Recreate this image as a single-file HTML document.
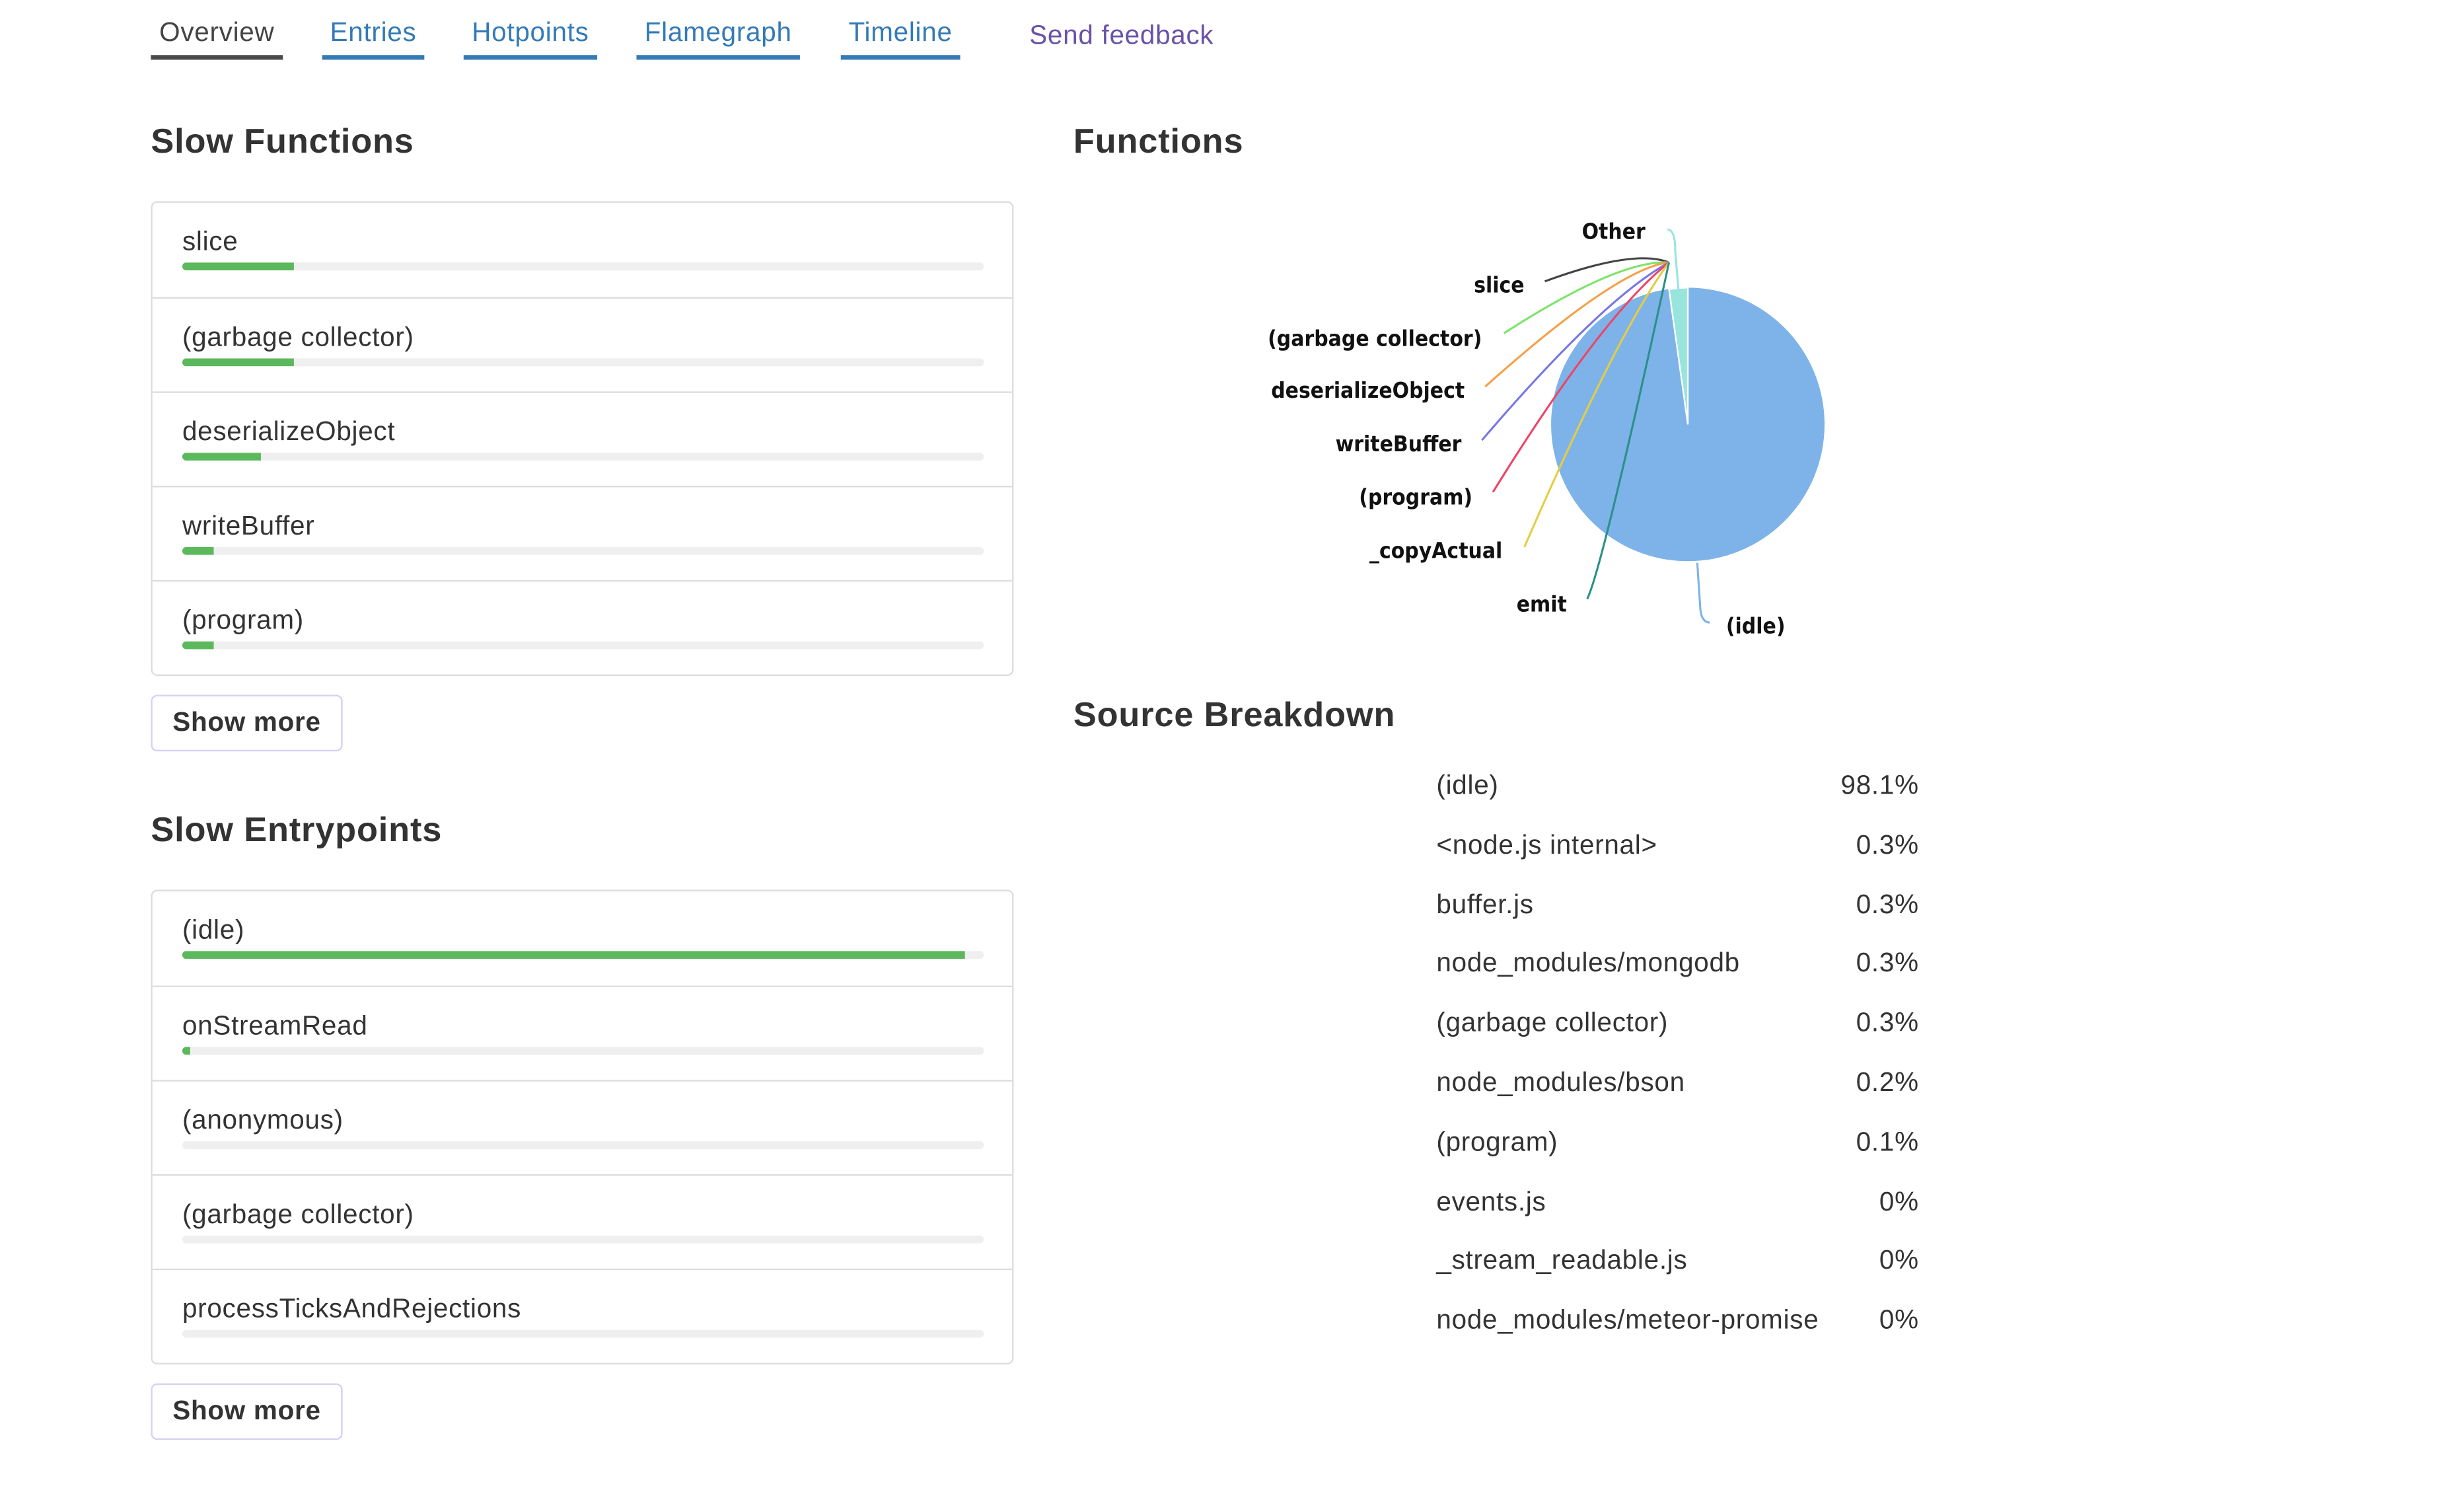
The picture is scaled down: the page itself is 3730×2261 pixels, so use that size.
<!DOCTYPE html>
<html><head><meta charset="utf-8"><style>
html,body{margin:0;padding:0;background:#fff;overflow:hidden;}
body{width:3730px;height:2261px;}
#w{position:absolute;left:0;top:0;width:1568px;height:950px;transform:scale(2.379,2.379);transform-origin:0 0;font-family:"Liberation Sans",sans-serif;color:#333;letter-spacing:0.3px;}
.a{position:absolute;white-space:nowrap;}
.tab{position:absolute;top:10px;font-size:17px;line-height:22px;color:#337ab7;text-align:center;}
.ul{position:absolute;top:35px;height:3px;background:#337ab7;}
h2{position:absolute;margin:0;font-size:22px;font-weight:bold;line-height:26px;color:#333;letter-spacing:0.35px;}
.panel{position:absolute;left:96px;width:547px;height:300px;border:1px solid #ddd;border-radius:4px;}
.row{position:absolute;left:0;width:547px;height:60px;border-top:1px solid #ddd;}
.row:first-child{border-top:none;}
.row .t{position:absolute;left:19px;top:15px;font-size:17px;line-height:20px;}
.row .b{position:absolute;left:19px;top:38px;width:510px;height:5px;background:#efefef;border-radius:3px;overflow:hidden;}
.row .g{height:5px;background:#5cb85c;}
.btn{position:absolute;left:96px;width:120px;height:34px;border:1px solid #d6d0f5;border-radius:4px;font-size:17px;font-weight:bold;line-height:34px;text-align:center;}
.sb{position:absolute;font-size:17px;line-height:20px;}
</style></head><body><div id="w">
<div class="tab" style="left:96px;width:84px;color:#444">Overview</div><div class="ul" style="left:96px;width:84px;background:#4a4a4a"></div>
<div class="tab" style="left:205px;width:65px">Entries</div><div class="ul" style="left:205px;width:65px"></div>
<div class="tab" style="left:295px;width:85px">Hotpoints</div><div class="ul" style="left:295px;width:85px"></div>
<div class="tab" style="left:405px;width:104px">Flamegraph</div><div class="ul" style="left:405px;width:104px"></div>
<div class="tab" style="left:535px;width:76px">Timeline</div><div class="ul" style="left:535px;width:76px"></div>
<div class="tab" style="left:655px;top:12px;color:#6a52a8">Send feedback</div>

<h2 style="left:96px;top:77px">Slow Functions</h2>
<div class="panel" style="top:128px">
<div class="row" style="top:0"><div class="t">slice</div><div class="b"><div class="g" style="width:71px"></div></div></div>
<div class="row" style="top:60px"><div class="t">(garbage collector)</div><div class="b"><div class="g" style="width:71px"></div></div></div>
<div class="row" style="top:120px"><div class="t">deserializeObject</div><div class="b"><div class="g" style="width:50px"></div></div></div>
<div class="row" style="top:180px"><div class="t">writeBuffer</div><div class="b"><div class="g" style="width:20px"></div></div></div>
<div class="row" style="top:240px"><div class="t">(program)</div><div class="b"><div class="g" style="width:20px"></div></div></div>
</div>
<div class="btn" style="top:442px">Show more</div>

<h2 style="left:96px;top:515px">Slow Entrypoints</h2>
<div class="panel" style="top:566px">
<div class="row" style="top:0"><div class="t">(idle)</div><div class="b"><div class="g" style="width:498px"></div></div></div>
<div class="row" style="top:60px"><div class="t">onStreamRead</div><div class="b"><div class="g" style="width:5px"></div></div></div>
<div class="row" style="top:120px"><div class="t">(anonymous)</div><div class="b"></div></div>
<div class="row" style="top:180px"><div class="t">(garbage collector)</div><div class="b"></div></div>
<div class="row" style="top:240px"><div class="t">processTicksAndRejections</div><div class="b"></div></div>
</div>
<div class="btn" style="top:880px">Show more</div>

<h2 style="left:683px;top:77px">Functions</h2>
<svg class="a" style="left:0;top:0;letter-spacing:0" width="1568" height="950" viewBox="0 0 1568 950">
<circle cx="1074" cy="270" r="87" fill="#7db3e9"/>
<path d="M1074 270 L1074 183 A87 87 0 0 0 1062 184 Z" fill="#98e5de" stroke="#fff" stroke-width="1"/>
<g fill="none" stroke-width="1.3">
<path d="M1061 146 Q1066 146 1066 160 L1068 184" stroke="#98e5de"/>
<path d="M983 179 Q1040 158 1062 167" stroke="#444"/>
<path d="M957 212 Q1030 165 1062 167" stroke="#7de36b"/>
<path d="M945 246 Q1030 170 1062 167" stroke="#f5a04a"/>
<path d="M943 280 Q1020 190 1062 167" stroke="#7777e6"/>
<path d="M950 313 Q1020 200 1062 167" stroke="#ee4466"/>
<path d="M970 348 Q1030 210 1062 167" stroke="#e6cc44"/>
<path d="M1010 381 Q1020 360 1062 167" stroke="#2a9088"/>
<path d="M1080 358 L1082 388 Q1083 396 1088 396" stroke="#7db3e9"/>
</g>
<g font-family="'DejaVu Sans Condensed','Liberation Sans',sans-serif" font-size="14" font-weight="bold" fill="#111" text-anchor="end">
<text x="1047" y="152">Other</text>
<text x="970" y="186">slice</text>
<text x="943" y="220">(garbage collector)</text>
<text x="932" y="253">deserializeObject</text>
<text x="930" y="287">writeBuffer</text>
<text x="937" y="321">(program)</text>
<text x="956" y="355">_copyActual</text>
<text x="997" y="389">emit</text>
<text x="1136" y="403">(idle)</text>
</g>
</svg>

<h2 style="left:683px;top:442px">Source Breakdown</h2>
<div class="sb" style="left:914px;top:481px;line-height:37.8px">(idle)<br>&lt;node.js internal&gt;<br>buffer.js<br>node_modules/mongodb<br>(garbage collector)<br>node_modules/bson<br>(program)<br>events.js<br>_stream_readable.js<br>node_modules/meteor-promise</div>
<div class="sb" style="left:1121px;width:100px;text-align:right;top:481px;line-height:37.8px">98.1%<br>0.3%<br>0.3%<br>0.3%<br>0.3%<br>0.2%<br>0.1%<br>0%<br>0%<br>0%</div>
</div></body></html>
